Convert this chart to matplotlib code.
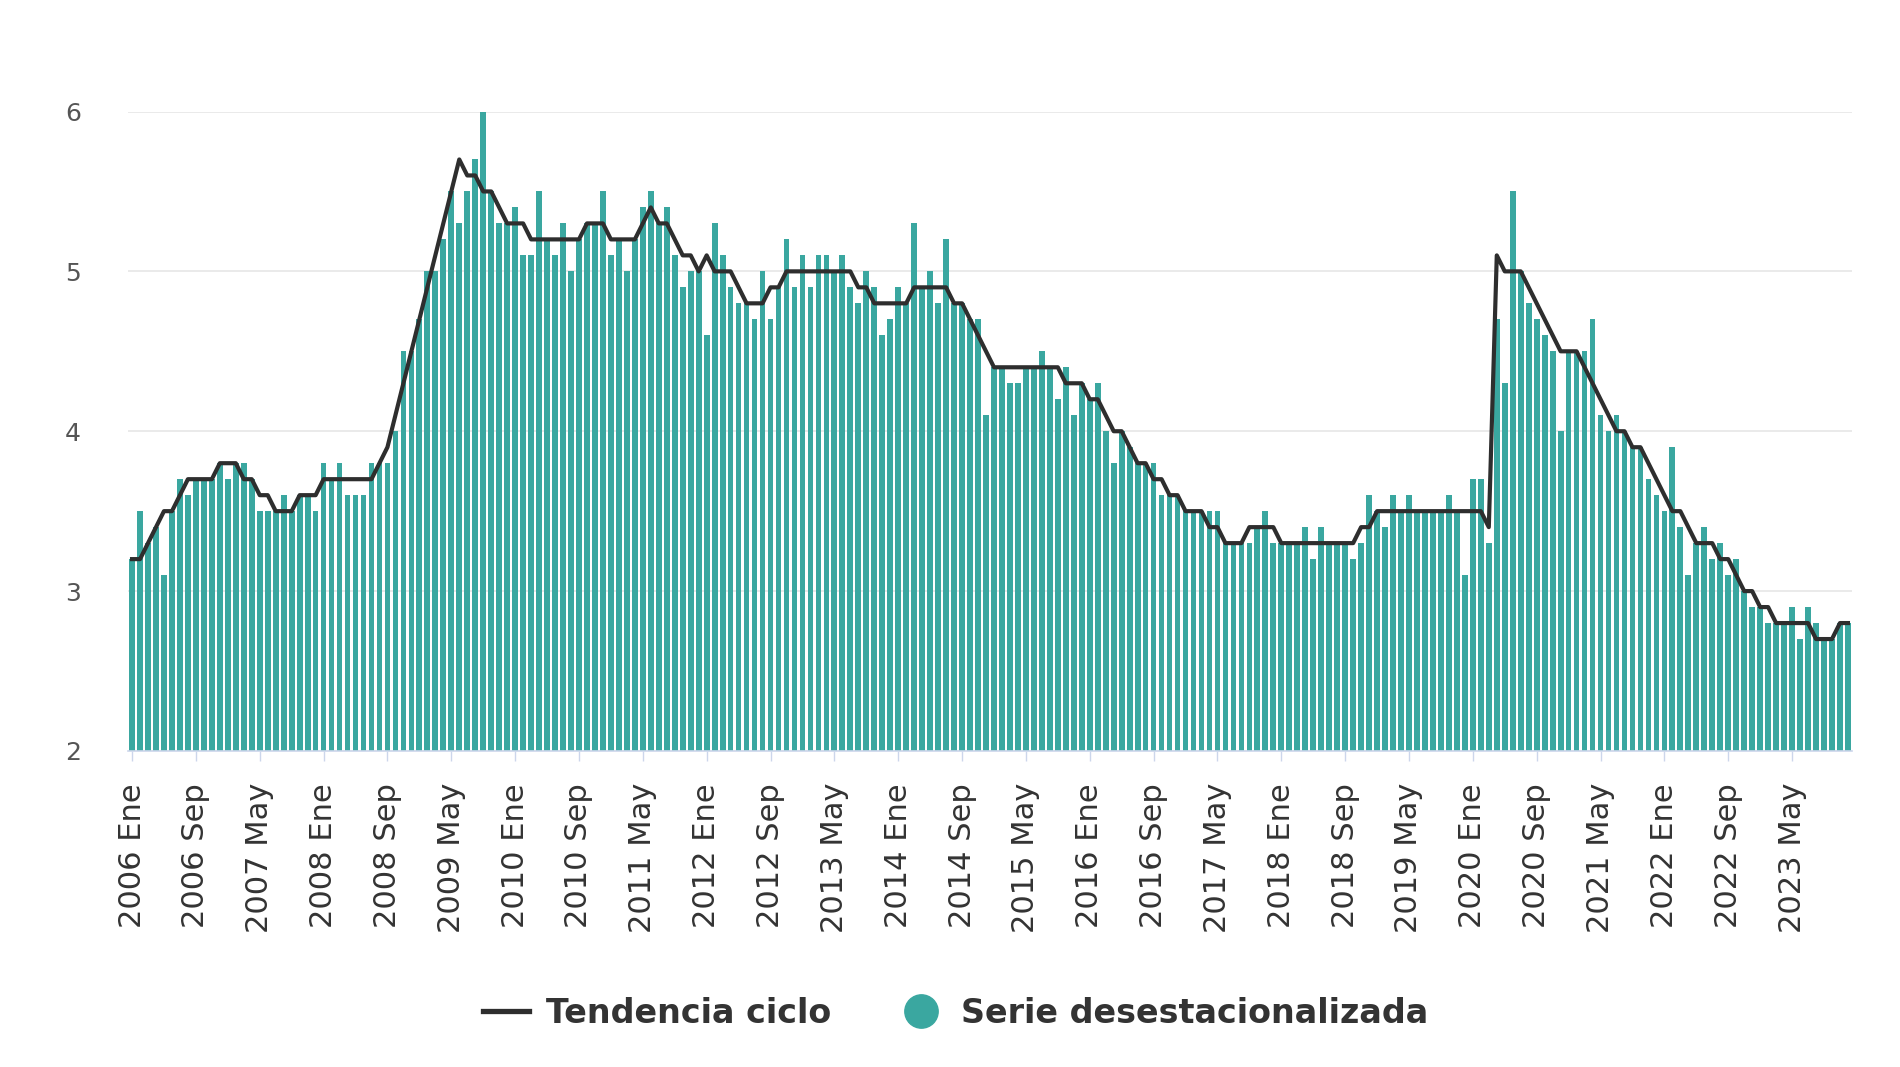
import matplotlib
matplotlib.use("Agg")
import matplotlib.pyplot as plt
from matplotlib.lines import Line2D

# ---- data (monthly, 2006 Ene .. 2023 Dic) ----
start_year = 2006
month_names = ["Ene", "Feb", "Mar", "Abr", "May", "Jun",
               "Jul", "Ago", "Sep", "Oct", "Nov", "Dic"]

serie_desest = [
    # 2006
    3.2, 3.5, 3.3, 3.4, 3.1, 3.5, 3.7, 3.6, 3.7, 3.7, 3.7, 3.8,
    # 2007
    3.7, 3.8, 3.8, 3.7, 3.5, 3.5, 3.5, 3.6, 3.5, 3.6, 3.6, 3.5,
    # 2008
    3.8, 3.7, 3.8, 3.6, 3.6, 3.6, 3.8, 3.8, 3.8, 4.0, 4.5, 4.5,
    # 2009
    4.7, 5.0, 5.0, 5.2, 5.5, 5.3, 5.5, 5.7, 6.0, 5.5, 5.3, 5.3,
    # 2010
    5.4, 5.1, 5.1, 5.5, 5.2, 5.1, 5.3, 5.0, 5.2, 5.3, 5.3, 5.5,
    # 2011
    5.1, 5.2, 5.0, 5.2, 5.4, 5.5, 5.3, 5.4, 5.1, 4.9, 5.0, 5.0,
    # 2012
    4.6, 5.3, 5.1, 4.9, 4.8, 4.8, 4.7, 5.0, 4.7, 4.9, 5.2, 4.9,
    # 2013
    5.1, 4.9, 5.1, 5.1, 5.0, 5.1, 4.9, 4.8, 5.0, 4.9, 4.6, 4.7,
    # 2014
    4.9, 4.8, 5.3, 4.9, 5.0, 4.8, 5.2, 4.8, 4.8, 4.7, 4.7, 4.1,
    # 2015
    4.4, 4.4, 4.3, 4.3, 4.4, 4.4, 4.5, 4.4, 4.2, 4.4, 4.1, 4.3,
    # 2016
    4.2, 4.3, 4.0, 3.8, 4.0, 3.9, 3.8, 3.8, 3.8, 3.6, 3.6, 3.6,
    # 2017
    3.5, 3.5, 3.5, 3.5, 3.5, 3.3, 3.3, 3.3, 3.3, 3.4, 3.5, 3.3,
    # 2018
    3.3, 3.3, 3.3, 3.4, 3.2, 3.4, 3.3, 3.3, 3.3, 3.2, 3.3, 3.6,
    # 2019
    3.5, 3.4, 3.6, 3.5, 3.6, 3.5, 3.5, 3.5, 3.5, 3.6, 3.5, 3.1,
    # 2020
    3.7, 3.7, 3.3, 4.7, 4.3, 5.5, 5.0, 4.8, 4.7, 4.6, 4.5, 4.0,
    # 2021
    4.5, 4.5, 4.5, 4.7, 4.1, 4.0, 4.1, 4.0, 3.9, 3.9, 3.7, 3.6,
    # 2022
    3.5, 3.9, 3.4, 3.1, 3.3, 3.4, 3.2, 3.3, 3.1, 3.2, 3.0, 2.9,
    # 2023
    2.9, 2.8, 2.8, 2.8, 2.9, 2.7, 2.9, 2.8, 2.7, 2.7, 2.8, 2.8,
]

tendencia_ciclo = [
    # 2006
    3.2, 3.2, 3.3, 3.4, 3.5, 3.5, 3.6, 3.7, 3.7, 3.7, 3.7, 3.8,
    # 2007
    3.8, 3.8, 3.7, 3.7, 3.6, 3.6, 3.5, 3.5, 3.5, 3.6, 3.6, 3.6,
    # 2008
    3.7, 3.7, 3.7, 3.7, 3.7, 3.7, 3.7, 3.8, 3.9, 4.1, 4.3, 4.5,
    # 2009
    4.7, 4.9, 5.1, 5.3, 5.5, 5.7, 5.6, 5.6, 5.5, 5.5, 5.4, 5.3,
    # 2010
    5.3, 5.3, 5.2, 5.2, 5.2, 5.2, 5.2, 5.2, 5.2, 5.3, 5.3, 5.3,
    # 2011
    5.2, 5.2, 5.2, 5.2, 5.3, 5.4, 5.3, 5.3, 5.2, 5.1, 5.1, 5.0,
    # 2012
    5.1, 5.0, 5.0, 5.0, 4.9, 4.8, 4.8, 4.8, 4.9, 4.9, 5.0, 5.0,
    # 2013
    5.0, 5.0, 5.0, 5.0, 5.0, 5.0, 5.0, 4.9, 4.9, 4.8, 4.8, 4.8,
    # 2014
    4.8, 4.8, 4.9, 4.9, 4.9, 4.9, 4.9, 4.8, 4.8, 4.7, 4.6, 4.5,
    # 2015
    4.4, 4.4, 4.4, 4.4, 4.4, 4.4, 4.4, 4.4, 4.4, 4.3, 4.3, 4.3,
    # 2016
    4.2, 4.2, 4.1, 4.0, 4.0, 3.9, 3.8, 3.8, 3.7, 3.7, 3.6, 3.6,
    # 2017
    3.5, 3.5, 3.5, 3.4, 3.4, 3.3, 3.3, 3.3, 3.4, 3.4, 3.4, 3.4,
    # 2018
    3.3, 3.3, 3.3, 3.3, 3.3, 3.3, 3.3, 3.3, 3.3, 3.3, 3.4, 3.4,
    # 2019
    3.5, 3.5, 3.5, 3.5, 3.5, 3.5, 3.5, 3.5, 3.5, 3.5, 3.5, 3.5,
    # 2020
    3.5, 3.5, 3.4, 5.1, 5.0, 5.0, 5.0, 4.9, 4.8, 4.7, 4.6, 4.5,
    # 2021
    4.5, 4.5, 4.4, 4.3, 4.2, 4.1, 4.0, 4.0, 3.9, 3.9, 3.8, 3.7,
    # 2022
    3.6, 3.5, 3.5, 3.4, 3.3, 3.3, 3.3, 3.2, 3.2, 3.1, 3.0, 3.0,
    # 2023
    2.9, 2.9, 2.8, 2.8, 2.8, 2.8, 2.8, 2.7, 2.7, 2.7, 2.8, 2.8,
]

n = len(serie_desest)
labels_all = [f"{start_year + k // 12} {month_names[k % 12]}" for k in range(n)]
tick_step = 8
tick_pos = list(range(0, n, tick_step))
tick_labels = [labels_all[k] for k in tick_pos]

y_ticks = [2, 3, 4, 5, 6]

bar_color = "#3aa7a0"
line_color = "#2e2e2e"

fig = plt.figure(figsize=(19.0, 10.67), dpi=100)
ax = fig.add_axes([0.0674, 0.2962, 0.9073, 0.5993])

x = list(range(n))
ax.bar(x, [v - 2 for v in serie_desest], bottom=2, width=0.72,
       color=bar_color, linewidth=0, zorder=2)
ax.plot(x, tendencia_ciclo, color=line_color, linewidth=3.0,
        solid_joinstyle="round", zorder=3)

ax.set_xlim(-0.5, n - 0.5)
ax.set_ylim(2, 6)
ax.set_yticks(y_ticks)
ax.set_yticklabels([str(t) for t in y_ticks], fontsize=18, color="#555555")
ax.yaxis.grid(True, color="#e6e6e6", linewidth=1.2, zorder=0)
ax.set_axisbelow(True)
ax.tick_params(axis="y", length=0, pad=34)

ax.set_xticks(tick_pos)
ax.set_xticklabels(tick_labels, rotation=90, fontsize=22, color="#333333")
ax.tick_params(axis="x", length=7, width=1, color="#ccd6eb", pad=16)

for side in ["top", "right", "left"]:
    ax.spines[side].set_visible(False)
ax.spines["bottom"].set_color("#ccd6eb")
ax.spines["bottom"].set_linewidth(1.2)

handles = [
    Line2D([0], [0], color=line_color, linewidth=3.8),
    Line2D([0], [0], marker="o", linestyle="none", markersize=24,
           markerfacecolor=bar_color, markeredgecolor=bar_color),
]
fig.legend(handles, ["Tendencia ciclo", "Serie desestacionalizada"],
           loc="center", bbox_to_anchor=(0.503, 0.050), ncol=2,
           frameon=False, handlelength=1.4, handletextpad=0.5,
           columnspacing=2.0,
           prop={"weight": "bold", "size": 24})
for t in fig.legends[0].get_texts():
    t.set_color("#333333")

fig.savefig("out.png", dpi=100)
